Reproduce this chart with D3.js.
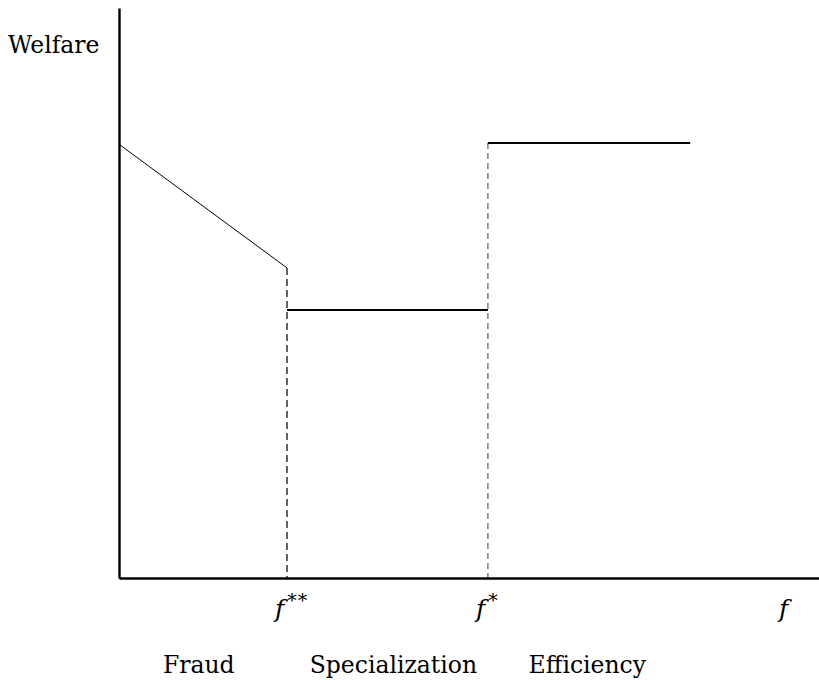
<!DOCTYPE html>
<html lang="en">
<head>
    <meta charset="UTF-8">
    <title>Welfare regimes</title>
    <script src="https://d3js.org/d3.v7.min.js"></script>
    <style>
        body {
            margin: 0;
            padding: 0;
            background: #fff;
        }
        svg text {
            font-family: "DejaVu Serif", serif;
            fill: #000;
        }
    </style>
</head>
<body>
<svg id="chart"></svg>

<script>
    // thresholds on the f axis and welfare levels (arbitrary units, 0-100)
    const fDoubleStar = 24;
    const fStar = 52.7;
    const fEnd = 81.6;
    const fFraudStart = 0;

    const fraudWelfare = [76.1, 54.4];   // at f = 0 and f = f**
    const specWelfare = 47;              // flat between f** and f*
    const effWelfare = 76.3;             // flat from f* on

    const tickLabels = [
        { f: fDoubleStar, sup: "**" },
        { f: fStar, sup: "*" },
        { f: 96, sup: "" }
    ];
    const regionLabels = [
        { f: 11.4, text: "Fraud" },
        { f: 39.2, text: "Specialization" },
        { f: 66.9, text: "Efficiency" }
    ];

    const width = 819;
    const height = 680;
    const margin = { top: 8, right: 0, bottom: 102, left: 119 };

    const svg = d3.select("#chart")
        .attr("width", width)
        .attr("height", height);

    const x = d3.scaleLinear()
        .domain([0, 100])
        .range([margin.left, width - margin.right]);

    const y = d3.scaleLinear()
        .domain([0, 100])
        .range([height - margin.bottom, margin.top]);

    // dashed guides
    svg.append("line")
        .attr("x1", x(fDoubleStar)).attr("x2", x(fDoubleStar))
        .attr("y1", y(fraudWelfare[1])).attr("y2", y(0))
        .attr("stroke", "#222")
        .attr("stroke-width", 1.4)
        .attr("stroke-dasharray", "7,4");

    svg.append("line")
        .attr("x1", x(fStar)).attr("x2", x(fStar))
        .attr("y1", y(effWelfare)).attr("y2", y(0))
        .attr("stroke", "#777")
        .attr("stroke-width", 1.4)
        .attr("stroke-dasharray", "6,4");

    // fraud segment
    svg.append("line")
        .attr("x1", x(fFraudStart)).attr("y1", y(fraudWelfare[0]))
        .attr("x2", x(fDoubleStar)).attr("y2", y(fraudWelfare[1]))
        .attr("stroke", "#000")
        .attr("stroke-width", 1);

    // specialization and efficiency levels
    svg.append("line")
        .attr("x1", x(fDoubleStar)).attr("x2", x(fStar))
        .attr("y1", y(specWelfare)).attr("y2", y(specWelfare))
        .attr("stroke", "#000")
        .attr("stroke-width", 2);

    svg.append("line")
        .attr("x1", x(fStar)).attr("x2", x(fEnd))
        .attr("y1", y(effWelfare)).attr("y2", y(effWelfare))
        .attr("stroke", "#000")
        .attr("stroke-width", 2);

    // axes without ticks
    const xAxis = svg.append("g")
        .attr("transform", `translate(0,${y(0)})`)
        .call(d3.axisBottom(x).tickValues([]).tickSizeOuter(0));
    xAxis.select(".domain").attr("stroke-width", 2.6);

    const yAxis = svg.append("g")
        .attr("transform", `translate(${x(0)},0)`)
        .call(d3.axisLeft(y).tickValues([]).tickSizeOuter(0));
    yAxis.select(".domain").attr("stroke-width", 2.4);

    svg.append("text")
        .attr("x", 8)
        .attr("y", 53)
        .style("font-size", "23.5px")
        .text("Welfare");

    // f labels
    const fl = svg.selectAll(".flabel")
        .data(tickLabels)
        .enter().append("text")
        .attr("class", "flabel")
        .attr("x", d => x(d.f) - 12)
        .attr("y", 617)
        .style("font-size", "25px");

    fl.append("tspan")
        .style("font-style", "italic")
        .text("f");
    fl.append("tspan")
        .attr("dx", 3)
        .attr("dy", -10)
        .attr("letter-spacing", 1)
        .style("font-size", "19px")
        .text(d => d.sup);

    svg.selectAll(".region")
        .data(regionLabels)
        .enter().append("text")
        .attr("class", "region")
        .attr("x", d => x(d.f))
        .attr("y", 673)
        .attr("text-anchor", "middle")
        .style("font-size", "23.5px")
        .text(d => d.text);
</script>
</body>
</html>
